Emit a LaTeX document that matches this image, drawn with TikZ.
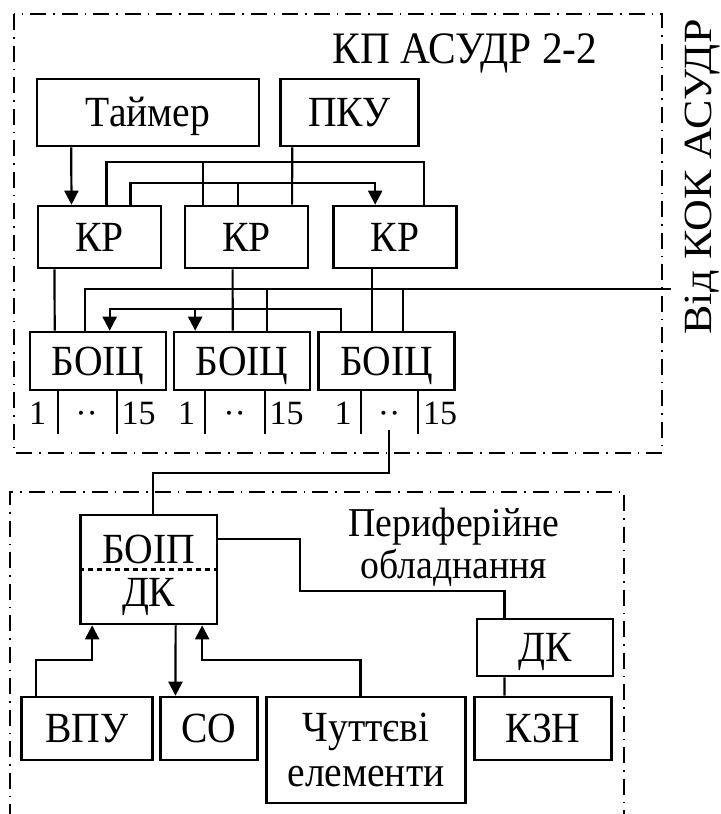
\documentclass[tikz,border=0pt]{standalone}
\usepackage{fontspec}
\setmainfont{Liberation Serif}[FakeStretch=0.92]
\newfontfamily\plainserif{Liberation Serif}
\newfontfamily\wideserif{Liberation Serif}[FakeStretch=1.1]
\usetikzlibrary{arrows.meta,positioning}
\tikzset{
  box/.style={draw,line width=1.3pt,inner sep=0pt,font=\fontsize{21.5}{22.5}\selectfont},
  blk/.style={box,text height=14.1pt,text depth=0pt},
  kr/.style={blk,minimum width=61.5pt,minimum height=31pt},
  boc/.style={blk,minimum width=68pt,minimum height=29pt},
  per/.style={blk,minimum height=31.5pt},
  lbl/.style={inner sep=0pt,font=\fontsize{21.5}{22}\selectfont},
  num/.style={inner sep=0pt,anchor=base,font=\plainserif\fontsize{17}{20}\selectfont},
  ln/.style={line width=1.1pt},
  arr/.style={ln,-{Triangle[length=7pt,width=7pt]}},
  frm/.style={line width=1.1pt,dash pattern=on 8pt off 3.5pt on 0.75pt off 3.5pt},
}
\begin{document}
\begin{tikzpicture}[x=0.5pt,y=-0.5pt]
  \useasboundingbox (0,0) rectangle (720,814);
  % frames
  \draw[frm] (14,14) rectangle (662,453);
  \draw[frm] (10,820) -- (10,492) -- (624,492) -- (624,820);
  \node[lbl,anchor=base,font=\fontsize{22.5}{23}\selectfont] (kp) at (465,63) {КП АСУДР 2-2};
  \node[lbl,anchor=base,rotate=90,font=\wideserif\fontsize{20}{21}\selectfont] (kokl) at (711,177) {Від КОК АСУДР};
  \node[lbl,align=center,font=\fontsize{20.5}{21}\selectfont] (perl) at (454,547) {Периферійне\\обладнання};
  \coordinate (kok) at (671,289);
  % control point
  \node[blk,minimum width=111pt,minimum height=33.5pt] (tmr) at (148,112.5) {Таймер};
  \node[blk,minimum width=69pt,minimum height=33.5pt] (pku) at (349.5,112.5) {ПКУ};
  \node[kr] (kr1) at (99.3,237) {КР};
  \node[kr] (kr2) at (246.4,237) {КР};
  \node[kr] (kr3) at (395,237) {КР};
  \node[boc] (boc1) at (98,361) {БОІЦ};
  \node[boc] (boc2) at (242,361) {БОІЦ};
  \node[boc] (boc3) at (386.5,361) {БОІЦ};
  \draw[arr] ([xshift=17.75pt]tmr.south west) -- ([xshift=17.5pt]kr1.north west);
  \draw[ln] ([xshift=6.5pt]pku.south west) -- ([xshift=54.25pt]kr2.north west);
  \draw[ln] ([xshift=35pt]kr1.north west) -- ++(0,-43) -| ([xshift=46pt]kr3.north west);
  \draw[ln] ([xshift=9.5pt]kr2.north west) -- ++(0,-43);
  \draw[arr] ([xshift=47pt]kr1.north west) -- ++(0,-22) -| ([xshift=21.5pt]kr3.north west);
  \draw[ln] ([xshift=27pt]kr2.north west) -- ++(0,-22);
  \draw[ln] ([xshift=9pt]kr1.south west) -- ([xshift=13pt]boc1.north west);
  \draw[ln] ([xshift=24.5pt]kr2.south west) -- ([xshift=30pt]boc2.north west);
  \draw[ln] ([xshift=20pt]kr3.south west) -- ([xshift=27.5pt]boc3.north west);
  \draw[ln] (kok) -| ([xshift=28pt]boc1.north west);
  \draw[ln] ([xshift=47pt]boc2.north west) -- ++(0,-43);
  \draw[ln] ([xshift=43pt]boc3.north west) -- ++(0,-43);
  \draw[arr] ([xshift=12pt]boc3.north west) -- ++(0,-22) -| ([xshift=40.5pt]boc1.north west);
  \draw[arr] ([xshift=11.25pt,yshift=11pt]boc2.north west) -- ([xshift=11.25pt]boc2.north west);
  % outputs 1..15
  \draw[ln] ([xshift=14.5pt]boc1.south west) -- ++(0,43); \draw[ln] ([xshift=44pt]boc1.south west) -- ++(0,43);
  \node[num] (a1) at ([xshift=4.5pt,yshift=-16.5pt]boc1.south west) {1};
  \node[num] (d1) at ([xshift=29pt,yshift=-16.5pt]boc1.south west) {··};
  \node[num] (b1) at ([xshift=55pt,yshift=-16.5pt]boc1.south west) {15};
  \draw[ln] ([xshift=16pt]boc2.south west) -- ++(0,43); \draw[ln] ([xshift=46pt]boc2.south west) -- ++(0,43);
  \node[num] (a2) at ([xshift=7pt,yshift=-16.5pt]boc2.south west) {1};
  \node[num] (d2) at ([xshift=31pt,yshift=-16.5pt]boc2.south west) {··};
  \node[num] (b2) at ([xshift=57pt,yshift=-16.5pt]boc2.south west) {15};
  \draw[ln] ([xshift=21.75pt]boc3.south west) -- ++(0,43); \draw[ln] ([xshift=50.5pt]boc3.south west) -- ++(0,43);
  \node[num] (a3) at ([xshift=13pt,yshift=-16.5pt]boc3.south west) {1};
  \node[num] (d3) at ([xshift=36pt,yshift=-16.5pt]boc3.south west) {··};
  \node[num] (b3) at ([xshift=61.5pt,yshift=-16.5pt]boc3.south west) {15};
  % peripheral equipment
  \node[box,minimum width=68.25pt,minimum height=54.5pt] (boip) at (148.7,569.5) {};
  \node[lbl,anchor=base] (boipt) at (148.7,563) {БОІП};
  \node[lbl,anchor=base] (boipb) at (148.7,606) {ДК};
  \draw[ln,dash pattern=on 2.5pt off 2pt] (boip.west) -- (boip.east);
  \node[blk,minimum width=68pt,minimum height=28.5pt] (dk) at (544.8,647.5) {ДК};
  \node[per,minimum width=68.25pt] (kzn) at (543,728.5) {КЗН};
  \node[per,minimum width=65.5pt] (vpu) at (87,728.5) {ВПУ};
  \node[per,minimum width=48.25pt] (co) at (209,728.5) {СО};
  \node[box,align=center,minimum width=99.3pt,minimum height=53pt] (chut) at (366,750) {Чуттєві\\елементи};
  \draw[ln] ([yshift=-2.5pt]d3.south) -- ++(0,43) -| ([xshift=2.25pt]boip.north);
  \draw[ln] ([yshift=15.25pt]boip.east) -- ++(82,0) -- ++(0,52) -| ([xshift=14.5pt]dk.north west);
  \draw[ln] ([xshift=14.5pt]dk.south west) -- ([xshift=15.5pt]kzn.north west);
  \draw[arr] ([xshift=8pt]vpu.north west) -- ++(0,-36) -| ([xshift=6.5pt]boip.south west);
  \draw[arr] ([xshift=48.25pt]boip.south west) -- ([xshift=8pt]co.north west);
  \draw[arr] ([xshift=47.5pt]chut.north west) -- ++(0,-36) -| ([xshift=61.5pt]boip.south west);
\end{tikzpicture}
\end{document}
